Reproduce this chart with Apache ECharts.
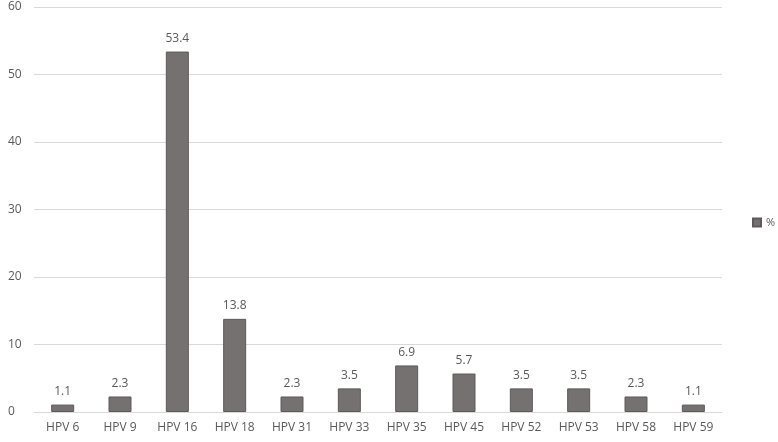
<!DOCTYPE html>
<html><head><meta charset="utf-8">
<script src="https://cdn.jsdelivr.net/npm/echarts@6/dist/echarts.min.js"></script>
<style>html,body{margin:0;padding:0;background:#fff}#c{width:778px;height:442px}</style>
</head><body><div id="c"></div>
<script>
const categories = ["HPV 6","HPV 9","HPV 16","HPV 18","HPV 31","HPV 33","HPV 35","HPV 45","HPV 52","HPV 53","HPV 58","HPV 59"];
const values = [1.1,2.3,53.4,13.8,2.3,3.5,6.9,5.7,3.5,3.5,2.3,1.1];
const seriesName = "%";
const chart = echarts.init(document.getElementById('c'));
const font = "Open Sans";
chart.setOption({
  animation:false,
  grid:{left:34,right:56,top:7,bottom:30,containLabel:false},
  legend:{show:true,orient:'vertical',left:752,top:217,padding:0,itemWidth:8,itemHeight:8,itemGap:4,icon:'rect',
    textStyle:{color:'#595959',fontSize:11,fontFamily:font},data:[seriesName]},
  xAxis:{type:'category',data:categories,
    axisLine:{lineStyle:{color:'#d9d9d9',width:1}},axisTick:{show:false},
    axisLabel:{color:'#595959',fontSize:12,fontFamily:font,margin:10,interval:0}},
  yAxis:{type:'value',min:0,max:60,interval:10,
    axisLine:{show:false},axisTick:{show:false},
    splitLine:{lineStyle:{color:'#d9d9d9',width:1}},
    axisLabel:{color:'#595959',fontSize:12,fontFamily:font,margin:26,align:'left'}},
  series:[{name:seriesName,type:'bar',data:values,barWidth:23,
    itemStyle:{color:'#767171',borderColor:'#5e5a5a',borderWidth:1},
    label:{show:true,position:'top',distance:7,color:'#595959',fontSize:12,fontFamily:font}}]
});
</script></body></html>
